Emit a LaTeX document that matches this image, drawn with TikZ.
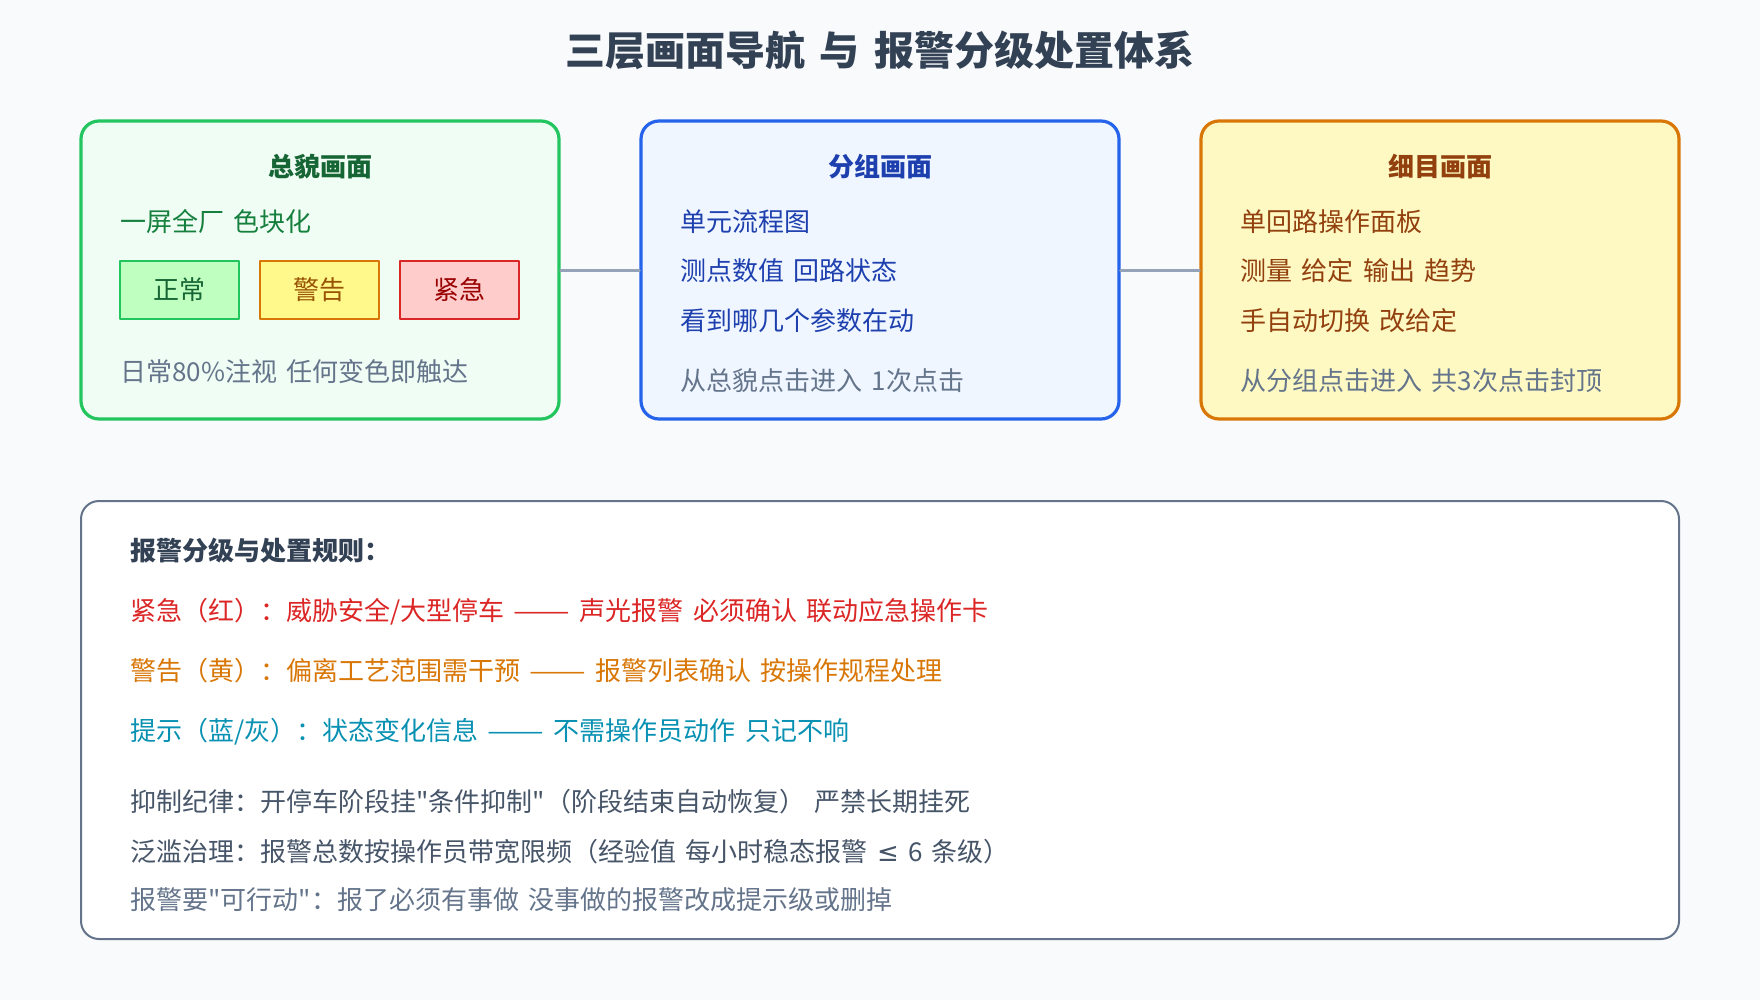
\documentclass[tikz,border=0pt]{standalone}
\usepackage{fontspec}
\newfontfamily\cjkfont{Noto Sans CJK SC}[WordSpace=1.6]
\newfontfamily\symfont{DejaVu Sans}
\newcommand{\dashpair}{\scalebox{1.3}[1]{——}}
\definecolor{pagebg}{HTML}{F8FAFC}
\definecolor{slatedark}{HTML}{334155}
\definecolor{slatemid}{HTML}{475569}
\definecolor{slategray}{HTML}{64748B}
\definecolor{linkgray}{HTML}{94A3B8}
\definecolor{grnline}{HTML}{22C55E}
\definecolor{grnfill}{HTML}{F0FDF4}
\definecolor{grntext}{HTML}{15803D}
\definecolor{grndark}{HTML}{166534}
\definecolor{bluline}{HTML}{2563EB}
\definecolor{blufill}{HTML}{EFF6FF}
\definecolor{blutext}{HTML}{1E40AF}
\definecolor{orgline}{HTML}{D97706}
\definecolor{orgfill}{HTML}{FEF9C3}
\definecolor{orgtext}{HTML}{92400E}
\definecolor{redline}{HTML}{DC2626}
\definecolor{cyantext}{HTML}{0891B2}
\begin{document}
\begin{tikzpicture}[x=0.5pt, y=-0.5pt, line join=round, line cap=round,
    panel/.style={draw, line width=1.6pt, rounded corners=9pt, inner sep=0pt,
      minimum width=239pt, minimum height=149pt},
    chip/.style={draw, line width=1pt, inner sep=0pt, minimum width=59.5pt,
      minimum height=29pt, font=\cjkfont\fontsize{13}{15}\selectfont},
    txt/.style={anchor=west, inner sep=0pt, font=\cjkfont\fontsize{13}{15}\selectfont},
    head/.style={inner sep=0pt, font=\cjkfont\fontsize{13}{15}\selectfont\bfseries},
    link/.style={draw=linkgray, line width=1.5pt}]
  \fill[pagebg] (0,0) rectangle (1760,1000);
  \useasboundingbox (0,0) rectangle (1760,1000);

  % title
  \node[inner sep=0pt, text=slatedark, font=\cjkfont\fontsize{20}{24}\selectfont\bfseries]
    (title) at (880,50) {三层画面导航 与 报警分级处置体系};

  % three panels
  \node[panel, draw=grnline, fill=grnfill] (overview) at (320,270) {};
  \node[panel, draw=bluline, fill=blufill] (group) at (880,270) {};
  \node[panel, draw=orgline, fill=orgfill] (detail) at (1440,270) {};
  \draw[link] (overview.east) -- (group.west);
  \draw[link] (group.east) -- (detail.west);

  % overview
  \node[head, text=grndark] (ovhead) at (320,167) {总貌画面};
  \node[txt, text=grntext] (ovline) at (120,222) {一屏全厂 色块化};
  \node[chip, draw=grnline, fill=green!25!white, text=grndark] (normal) at (179.5,290) {正常};
  \node[chip, draw=orgline, fill=yellow!45!white, text=orgline!70!black] (warn) at (319.5,290) {警告};
  \node[chip, draw=redline, fill=red!20!white, text=red!60!black] (urgent) at (459.5,290) {紧急};
  \node[txt, text=slategray] (ovnote) at (120,372) {日常80\%注视 任何变色即触达};

  % group
  \node[head, text=blutext] (grhead) at (880,167) {分组画面};
  \node[txt, text=blutext] (grone) at (680,222) {单元流程图};
  \node[txt, text=blutext] (grtwo) at (680,271) {测点数值 回路状态};
  \node[txt, text=blutext] (grthree) at (680,321) {看到哪几个参数在动};
  \node[txt, text=slategray] (grnote) at (680,381) {从总貌点击进入 1次点击};

  % detail
  \node[head, text=orgtext] (dthead) at (1440,167) {细目画面};
  \node[txt, text=orgtext] (dtone) at (1240,222) {单回路操作面板};
  \node[txt, text=orgtext] (dttwo) at (1240,271) {测量 给定 输出 趋势};
  \node[txt, text=orgtext] (dtthree) at (1240,321) {手自动切换 改给定};
  \node[txt, text=slategray] (dtnote) at (1240,381) {从分组点击进入 共3次点击封顶};

  % rules
  \node[draw=slategray, fill=white, line width=1pt, rounded corners=9pt, inner sep=0pt,
    minimum width=799pt, minimum height=219pt] (rules) at (880,720) {};
  \node[txt, text=slatedark, font=\cjkfont\fontsize{13}{15}\selectfont\bfseries] (rhead) at (130,551) {报警分级与处置规则：};
  \node[txt, text=redline] (rred) at (130,612) {紧急（红）：威胁安全/大型停车 \dashpair{} 声光报警 必须确认 联动应急操作卡};
  \node[txt, text=orgline] (ryel) at (130,671) {警告（黄）：偏离工艺范围需干预 \dashpair{} 报警列表确认 按操作规程处理};
  \node[txt, text=cyantext] (rblue) at (130,732) {提示（蓝/灰）：状态变化信息 \dashpair{} 不需操作员动作 只记不响};
  \node[txt, text=slatemid] (rsup) at (130,802) {抑制纪律：开停车阶段挂"条件抑制"（阶段结束自动恢复） 严禁长期挂死};
  \node[txt, text=slatemid] (rflood) at (130,852) {泛滥治理：报警总数按操作员带宽限频（经验值 每小时稳态报警 {\symfont ≤} 6 条级）};
  \node[txt, text=slategray] (ract) at (130,900) {报警要"可行动"：报了必须有事做 没事做的报警改成提示级或删掉};
\end{tikzpicture}
\end{document}
